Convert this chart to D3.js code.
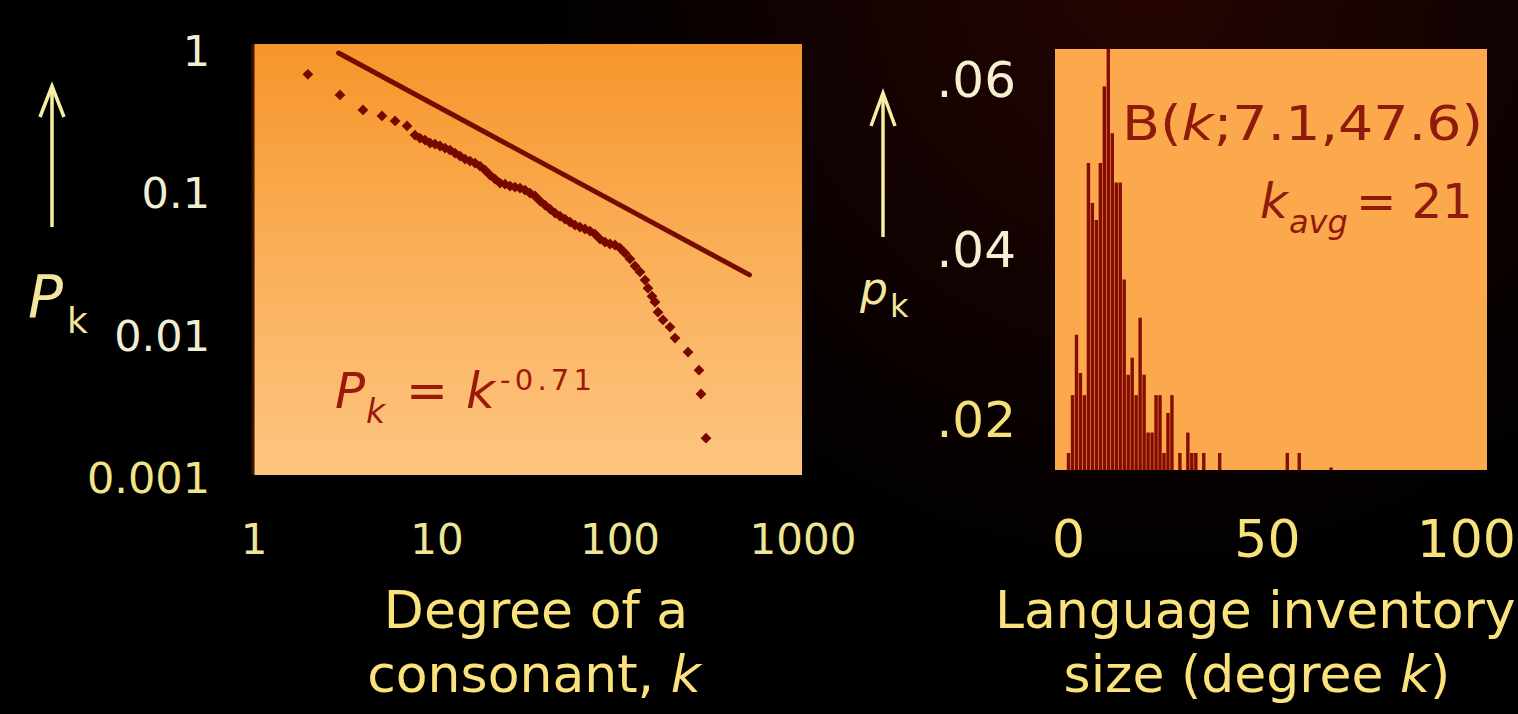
<!DOCTYPE html>
<html><head><meta charset="utf-8">
<script src="https://cdn.jsdelivr.net/npm/d3@7"></script>
<style>html,body{margin:0;padding:0;background:#000;overflow:hidden}</style>
</head><body>
<svg id="c" width="1518" height="714"></svg>
<script>
// ---------- Left chart: consonant degree distribution (log-log) ----------
const degreeK = [1.97, 2.95, 3.94, 5.0, 5.9, 6.86,
  7.58, 8.07, 8.60, 9.16, 9.75, 10.39, 11.06, 11.78, 12.54, 13.36, 14.22, 15.15, 16.13, 17.18,
  18.30, 19.48, 20.75, 22.10, 23.53, 25.06, 26.69, 28.42, 30.27, 32.23, 34.32, 36.55, 38.92,
  41.45, 44.14, 47.0, 50.06, 53.31, 56.77, 60.45, 64.38, 68.56, 73.01, 77.75, 82.8, 88.18,
  93.9, 100, 106.5, 113.4, 120.8, 128.6, 137.0, 142.2, 149.6, 155.3, 161.3, 171.8, 187.6,
  199.8, 235.3, 270.2, 277.1, 295.1];
const degreeP = [0.68, 0.487, 0.382, 0.347, 0.320, 0.295,
  0.2548, 0.2427, 0.2350, 0.2239, 0.2203, 0.2133, 0.2064, 0.1998, 0.1904, 0.1814, 0.1728, 0.1673, 0.1620, 0.1543,
  0.1446, 0.1334, 0.1250, 0.1172, 0.1153, 0.1116, 0.1098, 0.1080, 0.1046, 0.0997, 0.0950, 0.0876, 0.0821,
  0.0769, 0.0721, 0.0687, 0.0654, 0.0623, 0.0594, 0.0575, 0.0557, 0.0539, 0.0513, 0.0473, 0.0451, 0.0437,
  0.0430, 0.0409, 0.0377, 0.0343, 0.0306, 0.0278, 0.0244, 0.0214, 0.0188, 0.0171, 0.0145, 0.0128, 0.0114,
  0.00954, 0.00761, 0.00568, 0.00386, 0.00189];
const fitK = [2.9, 510];
const fitP = [0.96, 0.0265];
const leftXTicks = [1, 10, 100, 1000];
const leftXTickLabels = ["1", "10", "100", "1000"];
const leftYTicks = [1, 0.1, 0.01, 0.001];
const leftYTickLabels = ["1", "0.1", "0.01", "0.001"];

// ---------- Right chart: language inventory size histogram ----------
const invK = [0, 1, 2, 3, 4, 5, 6, 7, 8, 9, 10, 11, 12, 13, 14, 15, 16, 17, 18, 19, 20, 21, 22, 23, 24, 25, 26, 28, 30, 31, 32, 34, 38, 55, 58, 66];
const invP = [0.016, 0.0228, 0.0299, 0.0254, 0.0228, 0.0501, 0.0454, 0.0434, 0.0501, 0.0591, 0.064, 0.0536, 0.0478, 0.0478, 0.0364, 0.0252, 0.0272, 0.0228, 0.0319, 0.0252, 0.0184, 0.0184, 0.0228, 0.0228, 0.016, 0.0207, 0.0228, 0.016, 0.0184, 0.016, 0.016, 0.016, 0.016, 0.016, 0.016, 0.0143];
const rightXTicks = [0, 50, 100];
const rightXTickLabels = ["0", "50", "100"];
const rightYTicks = [0.06, 0.04, 0.02];
const rightYTickLabels = [".06", ".04", ".02"];

const FONT = "'DejaVu Sans', Verdana, sans-serif";
const svg = d3.select("#c");
const defs = svg.append("defs");

// background
const bg = defs.append("radialGradient").attr("id", "bg").attr("gradientUnits", "userSpaceOnUse")
  .attr("cx", 1150).attr("cy", -30).attr("r", 620);
bg.append("stop").attr("offset", "0%").attr("stop-color", "#260503");
bg.append("stop").attr("offset", "100%").attr("stop-color", "#000");
svg.append("rect").attr("width", 1518).attr("height", 714).attr("fill", "url(#bg)");

// ---------- Left panel ----------
const L = {x0: 253, x1: 802, y0: 44, y1: 475};
const xL = d3.scaleLog().domain([1, 1000]).range([254, 803]);
const yL = d3.scaleLog().domain([0.001, 1]).range([477.5, 50.5]);

const lg = defs.append("linearGradient").attr("id", "lg").attr("x1", 0).attr("y1", 0).attr("x2", 0).attr("y2", 1);
lg.append("stop").attr("offset", "0%").attr("stop-color", "#f6952a");
lg.append("stop").attr("offset", "45%").attr("stop-color", "#faad55");
lg.append("stop").attr("offset", "100%").attr("stop-color", "#fdc581");
defs.append("clipPath").attr("id", "clipL").append("rect")
  .attr("x", L.x0).attr("y", L.y0).attr("width", L.x1 - L.x0).attr("height", L.y1 - L.y0);

svg.append("rect").attr("x", L.x0).attr("y", L.y0).attr("width", L.x1 - L.x0).attr("height", L.y1 - L.y0)
  .attr("fill", "url(#lg)");
svg.append("line").attr("x1", L.x0).attr("x2", L.x0).attr("y1", L.y0).attr("y2", L.y1)
  .attr("stroke", "#3a1200").attr("stroke-width", 3);

const gL = svg.append("g").attr("clip-path", "url(#clipL)");
const fitData = fitK.map((k, i) => [k, fitP[i]]);
gL.append("path").datum(fitData)
  .attr("d", d3.line().x(d => xL(d[0])).y(d => yL(d[1])))
  .attr("stroke", "#760c00").attr("stroke-width", 5).attr("fill", "none").attr("stroke-linecap", "round");

const pts = degreeK.map((k, i) => [k, degreeP[i]]);
const sym = d3.symbol().type(d3.symbolSquare).size(58);
gL.selectAll("path.pt").data(pts).join("path").attr("class", "pt")
  .attr("d", sym)
  .attr("transform", d => `translate(${xL(d[0])},${yL(d[1])}) rotate(45)`)
  .attr("fill", "#760800");

// left tick labels
svg.append("g").selectAll("text").data(leftYTicks).join("text")
  .attr("x", 210).attr("y", d => yL(d) + 15.5)
  .attr("text-anchor", "end").attr("font-family", FONT).attr("font-size", 43)
  .attr("fill", d => d >= 0.01 ? "#f1eed6" : "#f2e48a")
  .text((d, i) => leftYTickLabels[i]);
svg.append("g").selectAll("text").data(leftXTicks).join("text")
  .attr("x", d => xL(d)).attr("y", 554)
  .attr("text-anchor", "middle").attr("font-family", FONT).attr("font-size", 42)
  .attr("fill", "#efe596")
  .text((d, i) => leftXTickLabels[i]);

// formula in left panel
const f1 = svg.append("text").attr("font-family", FONT).attr("fill", "#9a1a0a");
f1.append("tspan").attr("x", 335).attr("y", 408).attr("font-size", 50).attr("font-style", "italic").text("P");
f1.append("tspan").attr("x", 366).attr("y", 423).attr("font-size", 33).attr("font-style", "italic").text("k");
f1.append("tspan").attr("x", 406).attr("y", 408).attr("font-size", 50).text("=");
f1.append("tspan").attr("x", 466).attr("y", 408).attr("font-size", 50).attr("font-style", "italic").text("k");
f1.append("tspan").attr("x", 500).attr("y", 390).attr("font-size", 29).attr("textLength", 92).text("-0.71");

// left axis label
const yel = "#f6eea2";
const arrow = (x, yTop, yBot, hw, hh, g) => {
  g.append("line").attr("x1", x).attr("x2", x).attr("y1", yTop + 2).attr("y2", yBot)
    .attr("stroke", yel).attr("stroke-width", 3.5);
  g.append("path").attr("d", `M${x - hw},${yTop + hh} L${x},${yTop} L${x + hw},${yTop + hh}`)
    .attr("stroke", yel).attr("stroke-width", 3.5).attr("fill", "none").attr("stroke-linejoin", "miter");
};
arrow(52, 86, 227, 12, 31, svg);
const pl = svg.append("text").attr("font-family", FONT).attr("fill", "#f4e69e");
pl.append("tspan").attr("x", 28).attr("y", 317).attr("font-size", 58).attr("font-style", "italic").text("P");
pl.append("tspan").attr("x", 67).attr("y", 333).attr("font-size", 36).text("k");

// left axis title
const axisYellow = "#fae27c";
svg.append("text").attr("x", 536).attr("y", 628).attr("text-anchor", "middle")
  .attr("font-family", FONT).attr("font-size", 52).attr("fill", axisYellow).text("Degree of a");
const t2 = svg.append("text").attr("x", 534).attr("y", 692).attr("text-anchor", "middle")
  .attr("font-family", FONT).attr("font-size", 52).attr("fill", axisYellow);
t2.append("tspan").text("consonant, ");
t2.append("tspan").attr("font-style", "italic").text("k");

// ---------- Right panel ----------
const R = {x0: 1055, x1: 1487, y0: 49, y1: 470};
const xR = d3.scaleLinear().domain([-3.4, 105.2]).range([R.x0, R.x1]);
const yR = d3.scaleLinear().domain([0.014, 0.0635]).range([R.y1, R.y0]);
defs.append("clipPath").attr("id", "clipR").append("rect")
  .attr("x", R.x0).attr("y", R.y0).attr("width", R.x1 - R.x0).attr("height", R.y1 - R.y0);
svg.append("rect").attr("x", R.x0).attr("y", R.y0).attr("width", R.x1 - R.x0).attr("height", R.y1 - R.y0)
  .attr("fill", "#fca84c");

const gR = svg.append("g").attr("clip-path", "url(#clipR)");
const bars = invK.map((k, i) => [k, invP[i]]);
gR.selectAll("rect.bar").data(bars).join("rect").attr("class", "bar")
  .attr("x", d => xR(d[0]) - 1.7).attr("width", 3.4)
  .attr("y", d => yR(d[1])).attr("height", d => R.y1 - yR(d[1]))
  .attr("fill", "#850c00");

svg.append("g").selectAll("text").data(rightYTicks).join("text")
  .attr("x", 1016).attr("y", d => yR(d) + 18)
  .attr("text-anchor", "end").attr("font-family", FONT).attr("font-size", 50)
  .attr("fill", d => d > 0.03 ? "#f4f0d0" : "#f6e07c")
  .text((d, i) => rightYTickLabels[i]);
svg.append("g").selectAll("text").data(rightXTicks).join("text")
  .attr("x", d => xR(d)).attr("y", 557)
  .attr("text-anchor", "middle").attr("font-family", FONT).attr("font-size", 52)
  .attr("fill", "#f8e27c")
  .text((d, i) => rightXTickLabels[i]);

// annotations
const red = "#8e1a0c";
const b1 = svg.append("text").attr("x", 1122).attr("y", 140).attr("font-family", FONT)
  .attr("font-size", 48).attr("fill", red).attr("textLength", 361).attr("lengthAdjust", "spacingAndGlyphs");
b1.append("tspan").text("B(");
b1.append("tspan").attr("font-style", "italic").text("k");
b1.append("tspan").text(";7.1,47.6)");
const b2 = svg.append("text").attr("font-family", FONT).attr("fill", red);
b2.append("tspan").attr("x", 1260).attr("y", 218).attr("font-size", 48).attr("font-style", "italic").text("k");
b2.append("tspan").attr("x", 1289).attr("y", 233).attr("font-size", 32).attr("font-style", "italic").text("avg");
b2.append("tspan").attr("x", 1356).attr("y", 218).attr("font-size", 48).text("= 21");

// right axis label
arrow(883, 93, 237, 12, 33, svg);
const pr = svg.append("text").attr("font-family", FONT).attr("fill", "#f4e69e");
pr.append("tspan").attr("x", 860).attr("y", 304).attr("font-size", 44).attr("font-style", "italic").text("p");
pr.append("tspan").attr("x", 890).attr("y", 317).attr("font-size", 32).text("k");

// right axis title
svg.append("text").attr("x", 995).attr("y", 628).attr("font-family", FONT).attr("font-size", 52)
  .attr("fill", axisYellow).text("Language inventory");
const t4 = svg.append("text").attr("x", 1257).attr("y", 692).attr("text-anchor", "middle")
  .attr("font-family", FONT).attr("font-size", 52).attr("fill", axisYellow);
t4.append("tspan").text("size (degree ");
t4.append("tspan").attr("font-style", "italic").text("k");
t4.append("tspan").text(")");
</script>
</body></html>
